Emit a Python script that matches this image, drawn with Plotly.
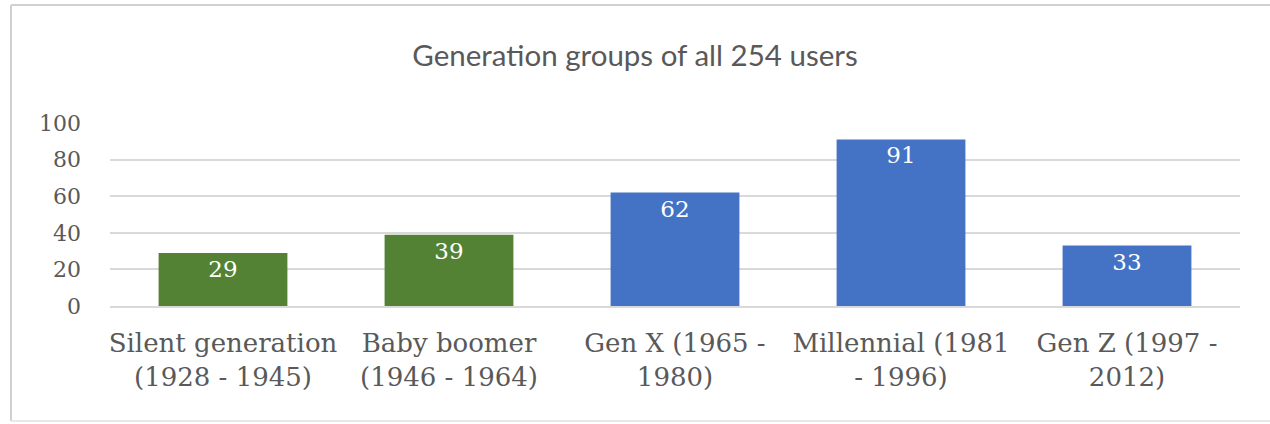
import plotly.graph_objects as go

categories = ["Silent generation<br>(1928 - 1945)", "Baby boomer<br>(1946 - 1964)",
              "Gen X (1965 -<br>1980)", "Millennial (1981<br>- 1996)", "Gen Z (1997 -<br>2012)"]
values = [29, 39, 62, 91, 33]
bar_colors = ["#548235", "#548235", "#4472C4", "#4472C4", "#4472C4"]
y_ticks = [0, 20, 40, 60, 80, 100]
title_text = "Generation groups of all 254 users"

W, H = 1270, 424
L, R, T, B = 110, 30, 123, 118

fig = go.Figure(go.Bar(
    x=categories, y=values, marker=dict(color=bar_colors, line=dict(width=0)),
    text=[str(v) for v in values], textposition="inside", insidetextanchor="end",
    textfont=dict(family="DejaVu Serif", size=23, color="#FFFFFF"),
    width=0.57, cliponaxis=False,
))

def px_x(x):
    return (x - L) / (W - L - R)

def px_y(y):
    return (H - B - y) / (H - T - B)

line_style = dict(color="#D0D0D0", width=2)
fig.add_shape(type="line", xref="paper", yref="paper", x0=px_x(11), x1=px_x(1275), y0=px_y(5), y1=px_y(5), line=line_style)
fig.add_shape(type="line", xref="paper", yref="paper", x0=px_x(11), x1=px_x(11), y0=px_y(5), y1=px_y(421), line=line_style)
fig.add_shape(type="line", xref="paper", yref="paper", x0=px_x(11), x1=px_x(1275), y0=px_y(421), y1=px_y(421), line=dict(color="#E8E8E8", width=2))

fig.update_layout(
    width=W, height=H, margin=dict(l=L, r=R, t=T, b=B),
    paper_bgcolor="white", plot_bgcolor="white",
    title=dict(text=title_text, x=0.5, xanchor="center", y=1 - 56 / H, yanchor="middle",
               font=dict(family="Lato", size=29.5, color="#595959")),
    showlegend=False, bargap=0.43,
    xaxis=dict(tickfont=dict(family="DejaVu Serif", size=26, color="#595959"),
               showgrid=False, showline=True, linecolor="#D9D9D9", linewidth=1.5,
               ticks="", ticklabelstandoff=13),
    yaxis=dict(range=[0, 100], tickvals=y_ticks, showgrid=True, gridcolor="#D9D9D9", gridwidth=1.5,
               zeroline=False, tickfont=dict(family="DejaVu Serif", size=22, color="#595959"),
               ticks="", ticklabelstandoff=28),
)

fig.write_html("out.html")
